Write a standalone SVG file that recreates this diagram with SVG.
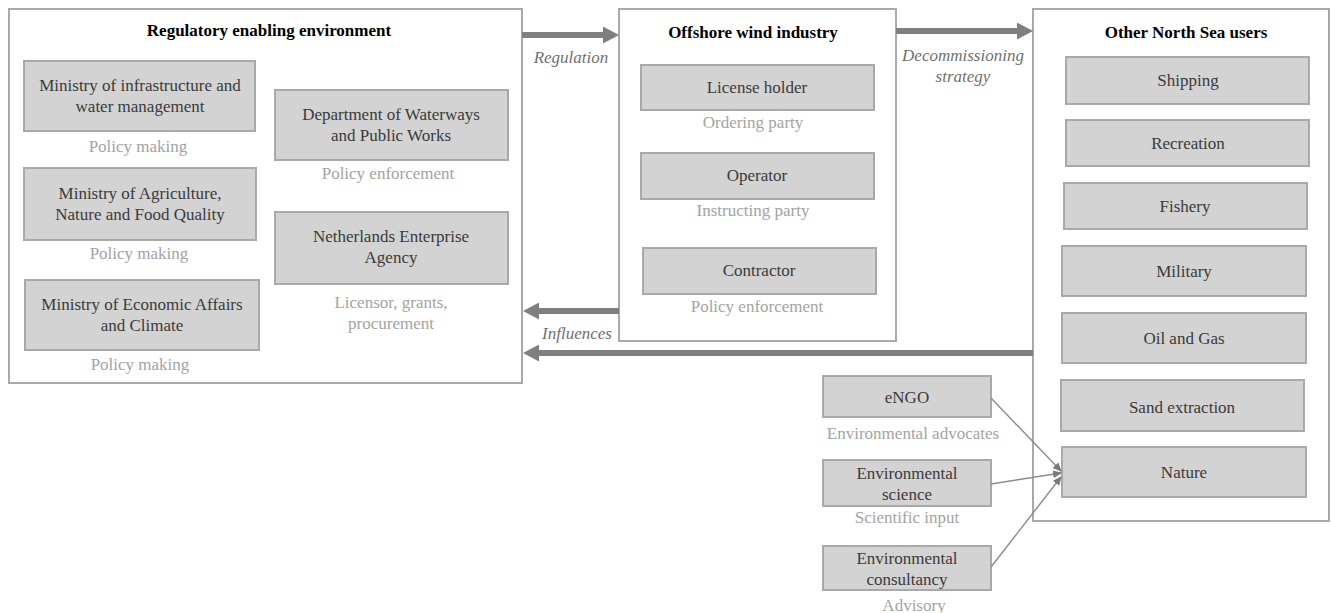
<svg xmlns="http://www.w3.org/2000/svg" width="1331" height="613" viewBox="0 0 1331 613">
<defs>
<style>
text{font-family:"Liberation Serif","Times New Roman","DejaVu Serif",serif;font-size:17px;text-anchor:middle}
.cont{fill:#fff;stroke:#a9a9a9;stroke-width:2}
.box{fill:#d3d3d3;stroke:#a9a9a9;stroke-width:2}
.t{fill:#3a3a3a}
.title{fill:#000;font-weight:bold}
.lbl{fill:#a3a3a3}
.it{fill:#707070;font-style:italic}
.big{stroke:#7f7f7f;stroke-width:6;fill:none}
.thin{stroke:#8a8a8a;stroke-width:1.4;fill:none}
</style>
<marker id="bigHead" markerUnits="userSpaceOnUse" markerWidth="16" markerHeight="17" refX="0" refY="8.5" orient="auto" viewBox="0 0 16 17">
<path d="M0,0 L16,8.5 L0,17 z" fill="#7f7f7f"/>
</marker>
<marker id="smallHead" markerUnits="userSpaceOnUse" markerWidth="9" markerHeight="9" refX="8" refY="4.5" orient="auto" viewBox="0 0 9 9">
<path d="M0,0.5 L9,4.5 L0,8.5 z" fill="#7a7a7a"/>
</marker>
</defs>
<rect width="1331" height="613" fill="#fff"/>

<g id="regulatory">
<rect class="cont" x="9" y="9" width="513" height="374"/>
<text class="title" x="269" y="36">Regulatory enabling environment</text>
</g>
<g id="min-infra">
<rect class="box" x="24" y="61" width="231" height="70"/>
<text class="t" x="140" y="91">Ministry of infrastructure and</text>
<text class="t" x="140" y="112">water management</text>
<text class="lbl" x="138" y="152">Policy making</text>
</g>
<g id="min-agri">
<rect class="box" x="24" y="168" width="232" height="72"/>
<text class="t" x="140" y="199">Ministry of Agriculture,</text>
<text class="t" x="140" y="220">Nature and Food Quality</text>
<text class="lbl" x="139" y="259">Policy making</text>
</g>
<g id="min-econ">
<rect class="box" x="25" y="280" width="234" height="70"/>
<text class="t" x="142" y="310">Ministry of Economic Affairs</text>
<text class="t" x="142" y="331">and Climate</text>
<text class="lbl" x="140" y="370">Policy making</text>
</g>
<g id="dept-waterways">
<rect class="box" x="275" y="90" width="233" height="70"/>
<text class="t" x="391" y="120">Department of Waterways</text>
<text class="t" x="391" y="141">and Public Works</text>
<text class="lbl" x="388" y="179">Policy enforcement</text>
</g>
<g id="rvo">
<rect class="box" x="275" y="212" width="233" height="72"/>
<text class="t" x="391" y="242">Netherlands Enterprise</text>
<text class="t" x="391" y="263">Agency</text>
<text class="lbl" x="391" y="308">Licensor, grants,</text>
<text class="lbl" x="391" y="329">procurement</text>
</g>

<g id="offshore">
<rect class="cont" x="619" y="9" width="277" height="332"/>
<text class="title" x="753" y="38">Offshore wind industry</text>
</g>
<g id="license-holder">
<rect class="box" x="641" y="65" width="233" height="45"/>
<text class="t" x="757" y="93">License holder</text>
<text class="lbl" x="753" y="128">Ordering party</text>
</g>
<g id="operator">
<rect class="box" x="641" y="153" width="233" height="46"/>
<text class="t" x="757" y="181">Operator</text>
<text class="lbl" x="753" y="216">Instructing party</text>
</g>
<g id="contractor">
<rect class="box" x="643" y="248" width="233" height="46"/>
<text class="t" x="759" y="276">Contractor</text>
<text class="lbl" x="757" y="312">Policy enforcement</text>
</g>

<g id="other-users">
<rect class="cont" x="1033" y="9" width="296" height="512"/>
<text class="title" x="1186" y="38">Other North Sea users</text>
</g>
<g id="shipping">
<rect class="box" x="1066" y="57" width="243" height="47"/>
<text class="t" x="1188" y="86">Shipping</text>
</g>
<g id="recreation">
<rect class="box" x="1066" y="120" width="243" height="46"/>
<text class="t" x="1188" y="149">Recreation</text>
</g>
<g id="fishery">
<rect class="box" x="1064" y="183" width="243" height="46"/>
<text class="t" x="1185" y="212">Fishery</text>
</g>
<g id="military">
<rect class="box" x="1062" y="246" width="244" height="50"/>
<text class="t" x="1184" y="277">Military</text>
</g>
<g id="oil-gas">
<rect class="box" x="1062" y="313" width="244" height="50"/>
<text class="t" x="1184" y="344">Oil and Gas</text>
</g>
<g id="sand">
<rect class="box" x="1061" y="380" width="243" height="51"/>
<text class="t" x="1182" y="413">Sand extraction</text>
</g>
<g id="nature">
<rect class="box" x="1062" y="447" width="244" height="50"/>
<text class="t" x="1184" y="478">Nature</text>
</g>

<g id="engo">
<rect class="box" x="823" y="376" width="168" height="41"/>
<text class="t" x="907" y="403">eNGO</text>
<text class="lbl" x="913" y="439">Environmental advocates</text>
</g>
<g id="env-science">
<rect class="box" x="823" y="460" width="168" height="46"/>
<text class="t" x="907" y="479">Environmental</text>
<text class="t" x="907" y="500">science</text>
<text class="lbl" x="907" y="523">Scientific input</text>
</g>
<g id="env-consultancy">
<rect class="box" x="823" y="546" width="168" height="44"/>
<text class="t" x="907" y="564">Environmental</text>
<text class="t" x="907" y="585">consultancy</text>
<text class="lbl" x="914" y="611">Advisory</text>
</g>

<g id="connectors">
<path class="big" d="M522,35 L603,35" marker-end="url(#bigHead)"/>
<text class="it" x="571" y="63">Regulation</text>
<path class="big" d="M619,311 L539,311" marker-end="url(#bigHead)"/>
<text class="it" x="577" y="339">Influences</text>
<path class="big" d="M896,31 L1017,31" marker-end="url(#bigHead)"/>
<text class="it" x="963" y="61">Decommissioning</text>
<text class="it" x="963" y="82">strategy</text>
<path class="big" d="M1033,353 L539,353" marker-end="url(#bigHead)"/>
<path class="thin" d="M991,398 L1061,471" marker-end="url(#smallHead)"/>
<path class="thin" d="M991,484 L1061,473" marker-end="url(#smallHead)"/>
<path class="thin" d="M991,567 L1061,477" marker-end="url(#smallHead)"/>
</g>
</svg>
